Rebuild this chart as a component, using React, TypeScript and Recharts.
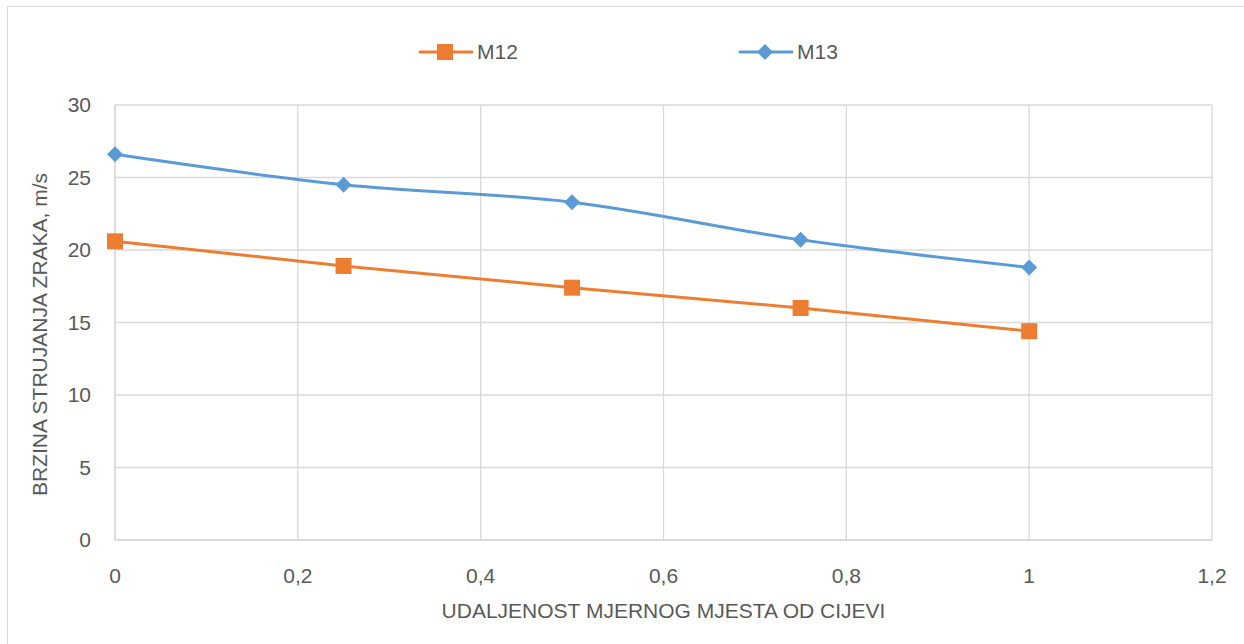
import { LineChart, Line, XAxis, YAxis, CartesianGrid, Legend } from 'recharts'

const distances = [0, 0.25, 0.5, 0.75, 1]
const m12 = [20.6, 18.9, 17.4, 16.0, 14.4]
const m13 = [26.6, 24.5, 23.3, 20.7, 18.8]
const xTicks = [0, 0.2, 0.4, 0.6, 0.8, 1, 1.2]
const yTicks = [0, 5, 10, 15, 20, 25, 30]

const data = distances.map((d, i) => ({ x: d, M12: m12[i], M13: m13[i] }))

const FONT = "'Liberation Sans', Arial, sans-serif"
const TEXT = '#595959'
const GRID = '#d9d9d9'
const ORANGE = '#ed7d31'
const BLUE = '#5b9bd5'

function Square(props: any) {
  const { cx, cy } = props
  if (cx == null || cy == null) return null
  return <rect x={cx - 8} y={cy - 8} width={16} height={16} fill={ORANGE} />
}

function Diamond(props: any) {
  const { cx, cy } = props
  if (cx == null || cy == null) return null
  return <path d={`M${cx},${cy - 8}L${cx + 8},${cy}L${cx},${cy + 8}L${cx - 8},${cy}Z`} fill={BLUE} />
}

function LegendContent() {
  const items = [
    { name: 'M12', color: ORANGE, shape: 'square', left: 418 },
    { name: 'M13', color: BLUE, shape: 'diamond', left: 738 },
  ]
  return (
    <div style={{ position: 'relative', height: 30 }}>
      {items.map(it => (
        <div key={it.name} style={{ position: 'absolute', left: it.left, top: 0, display: 'flex', alignItems: 'center' }}>
          <svg width={56} height={30}>
            <line x1={2} y1={15} x2={54} y2={15} stroke={it.color} strokeWidth={3} strokeLinecap="round" />
            {it.shape === 'square'
              ? <rect x={19} y={7} width={16} height={16} fill={it.color} />
              : <path d="M27,7L35,15L27,23L19,15Z" fill={it.color} />}
          </svg>
          <span style={{ fontFamily: FONT, fontSize: 21, color: TEXT, marginLeft: 3 }}>{it.name}</span>
        </div>
      ))}
    </div>
  )
}

export default function App() {
  return (
    <div style={{ position: 'absolute', left: 0, top: 0, width: 1244, height: 644, background: '#fff' }}>
      <div style={{ position: 'absolute', left: 7, top: 6, width: 1240, height: 650, border: `1px solid ${GRID}` }} />
      <LineChart
        width={1244}
        height={644}
        data={data}
        margin={{ top: 75, right: 32, bottom: 44, left: 85 }}
        style={{ position: 'absolute', left: 0, top: 0 }}
      >
        <CartesianGrid stroke={GRID} strokeWidth={1.3} />
        <XAxis
          dataKey="x"
          type="number"
          domain={[0, 1.2]}
          ticks={xTicks}
          height={60}
          stroke={GRID}
          strokeWidth={1.3}
          tickLine={false}
          tickSize={0}
          tickMargin={28}
          tick={{ fill: TEXT, fontSize: 21, fontFamily: FONT }}
          tickFormatter={(v: number) => String(v).replace('.', ',')}
          label={{ value: 'UDALJENOST MJERNOG MJESTA OD CIJEVI', position: 'insideBottom', offset: -18, fill: TEXT, fontSize: 21, fontFamily: FONT }}
        />
        <YAxis
          type="number"
          domain={[0, 30]}
          ticks={yTicks}
          width={30}
          stroke={GRID}
          strokeWidth={1.3}
          tickLine={false}
          tickSize={0}
          tickMargin={24}
          tick={{ fill: TEXT, fontSize: 21, fontFamily: FONT }}
          label={{ value: 'BRZINA STRUJANJA ZRAKA, m/s', angle: -90, position: 'insideLeft', offset: 0, dx: -45, dy: 12, fill: TEXT, fontSize: 21, fontFamily: FONT, style: { textAnchor: 'middle' } }}
        />
        <Legend verticalAlign="top" content={<LegendContent />} wrapperStyle={{ top: 37, left: 0, width: 1244 }} />
        <Line type="monotone" dataKey="M12" stroke={ORANGE} strokeWidth={3} dot={<Square />} activeDot={false} isAnimationActive={false} />
        <Line type="monotone" dataKey="M13" stroke={BLUE} strokeWidth={3} dot={<Diamond />} activeDot={false} isAnimationActive={false} />
      </LineChart>
    </div>
  )
}
